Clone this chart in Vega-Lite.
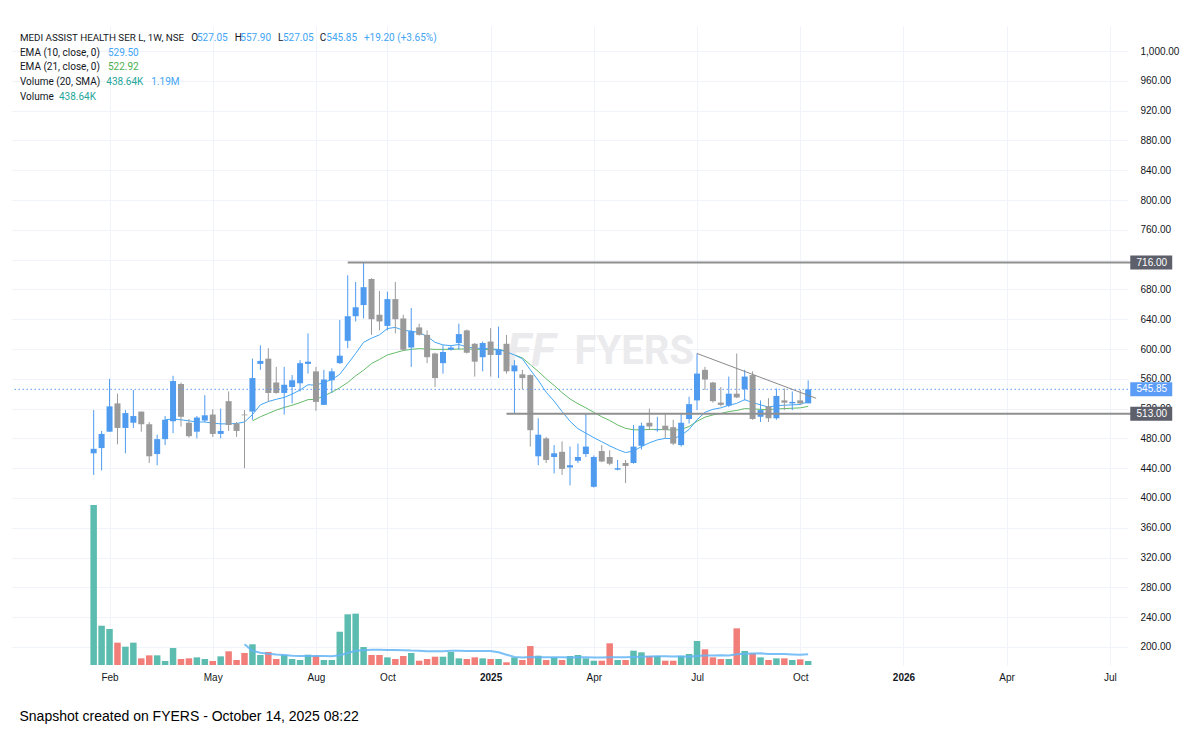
{
"$schema":"https://vega.github.io/schema/vega-lite/v6.json",
"width":1116,"height":639,"autosize":"none",
"padding":{"left":12,"top":26,"right":72,"bottom":67},
"background":"#ffffff",
"config":{"view":{"stroke":null},"axis":{"labelFont":"Liberation Sans"},"scale":{"continuousPadding":0}},
"title":{"text":"Snapshot created on FYERS - October 14, 2025 08:22","orient":"bottom","anchor":"start","offset":28,"dx":8,"font":"Liberation Sans","fontSize":14,"fontWeight":"normal","color":"#000000"},
"datasets":{"w":[
{"d":"2024-01-22","o":460,"h":518,"l":431,"c":466,"v":17.54},
{"d":"2024-01-29","o":467,"h":490,"l":437,"c":486,"v":4.31},
{"d":"2024-02-05","o":489,"h":560,"l":489,"c":523,"v":3.95},
{"d":"2024-02-12","o":527,"h":540,"l":472,"c":494,"v":2.45},
{"d":"2024-02-19","o":494,"h":518,"l":460,"c":514,"v":2.01},
{"d":"2024-02-26","o":501,"h":545,"l":494,"c":510,"v":2.45},
{"d":"2024-03-04","o":516,"h":516,"l":489,"c":499,"v":0.73},
{"d":"2024-03-11","o":499,"h":502,"l":447,"c":456,"v":1.06},
{"d":"2024-03-18","o":459,"h":485,"l":444,"c":479,"v":1.06},
{"d":"2024-03-25","o":479,"h":510,"l":471,"c":505,"v":0.44,"e10":505},
{"d":"2024-04-01","o":503,"h":564,"l":487,"c":557,"v":1.86,"e10":506},
{"d":"2024-04-08","o":553,"h":555,"l":496,"c":509,"v":0.66,"e10":505},
{"d":"2024-04-15","o":501,"h":506,"l":481,"c":483,"v":0.73,"e10":503.5},
{"d":"2024-04-22","o":489,"h":510,"l":480,"c":508,"v":0.84,"e10":502},
{"d":"2024-04-29","o":504,"h":538,"l":502,"c":511,"v":0.66,"e10":502},
{"d":"2024-05-06","o":512,"h":519,"l":482,"c":486,"v":0.44,"e10":500.5},
{"d":"2024-05-13","o":486,"h":520,"l":480,"c":490,"v":0.95,"e10":499.5},
{"d":"2024-05-20","o":530,"h":543,"l":490,"c":498,"v":1.50,"e10":499.5},
{"d":"2024-05-27","o":500,"h":502,"l":482,"c":490,"v":0.55,"e10":500},
{"d":"2024-06-03","o":512,"h":518,"l":440,"c":511,"v":1.32,"e10":502,"vs":2.27},
{"d":"2024-06-10","o":516,"h":587,"l":505,"c":561,"v":2.27,"e10":512,"e21":503.5,"vs":1.55},
{"d":"2024-06-17","o":580,"h":605,"l":572,"c":584,"v":1.10,"e10":525,"e21":509,"vs":1.35},
{"d":"2024-06-24","o":587,"h":601,"l":529,"c":541,"v":1.43,"e10":529.5,"e21":513.5,"vs":1.23},
{"d":"2024-07-01","o":555,"h":576,"l":540,"c":541,"v":0.66,"e10":532.5,"e21":518,"vs":1.14},
{"d":"2024-07-08","o":541,"h":576,"l":512,"c":552,"v":1.10,"e10":535,"e21":521.5,"vs":1.09},
{"d":"2024-07-15","o":549,"h":565,"l":527,"c":558,"v":0.66,"e10":539.5,"e21":524.5,"vs":1.02},
{"d":"2024-07-22","o":554,"h":585,"l":543,"c":581,"v":0.55,"e10":545,"e21":528,"vs":1.0},
{"d":"2024-07-29","o":580,"h":621,"l":567,"c":583,"v":1.13,"e10":552,"e21":532,"vs":1.0},
{"d":"2024-08-05","o":570,"h":576,"l":517,"c":529,"v":1.02,"e10":551.5,"e21":532.5,"vs":1.0},
{"d":"2024-08-12","o":525,"h":572,"l":525,"c":559,"v":0.55,"e10":555,"e21":537,"vs":1.0},
{"d":"2024-08-19","o":558,"h":574,"l":541,"c":570,"v":0.55,"e10":559,"e21":542,"vs":0.95},
{"d":"2024-08-26","o":581,"h":639,"l":580,"c":591,"v":3.65,"e10":566,"e21":548,"vs":1.08},
{"d":"2024-09-02","o":611,"h":699,"l":601,"c":644,"v":5.56,"e10":580,"e21":555,"vs":1.32},
{"d":"2024-09-09","o":644,"h":690,"l":637,"c":656,"v":5.63,"e10":594,"e21":564,"vs":1.56},
{"d":"2024-09-16","o":659,"h":716,"l":641,"c":683,"v":1.97,"e10":609,"e21":571.5,"vs":1.63},
{"d":"2024-09-23","o":694,"h":695,"l":619,"c":640,"v":1.10,"e10":614.5,"e21":580.5,"vs":1.66},
{"d":"2024-09-30","o":646,"h":678,"l":625,"c":637,"v":1.10,"e10":619,"e21":586,"vs":1.67},
{"d":"2024-10-07","o":631,"h":677,"l":625,"c":667,"v":0.84,"e10":627.5,"e21":592,"vs":1.64},
{"d":"2024-10-14","o":667,"h":690,"l":621,"c":640,"v":0.66,"e10":629,"e21":595,"vs":1.64},
{"d":"2024-10-21","o":641,"h":646,"l":598,"c":599,"v":0.99,"e10":625,"e21":598,"vs":1.63},
{"d":"2024-10-28","o":602,"h":655,"l":576,"c":624,"v":1.32,"e10":624,"e21":599.5,"vs":1.58},
{"d":"2024-11-04","o":629,"h":634,"l":618,"c":619,"v":0.47,"e10":622,"e21":600.5,"vs":1.55},
{"d":"2024-11-11","o":619,"h":625,"l":581,"c":589,"v":0.66,"e10":617,"e21":600,"vs":1.51},
{"d":"2024-11-18","o":594,"h":595,"l":549,"c":561,"v":0.91,"e10":609,"e21":599.5,"vs":1.52},
{"d":"2024-11-25","o":581,"h":605,"l":567,"c":596,"v":0.91,"e10":605.5,"e21":599.5,"vs":1.51},
{"d":"2024-12-02","o":599,"h":604,"l":598,"c":602,"v":1.43,"e10":604.5,"e21":599.5,"vs":1.55},
{"d":"2024-12-09","o":608,"h":634,"l":599,"c":620,"v":0.73,"e10":606,"e21":600,"vs":1.56},
{"d":"2024-12-16","o":625,"h":626,"l":594,"c":595,"v":0.66,"e10":603,"e21":600,"vs":1.54},
{"d":"2024-12-23","o":607,"h":608,"l":563,"c":583,"v":0.84,"e10":601,"e21":599.5,"vs":1.53},
{"d":"2024-12-30","o":589,"h":610,"l":570,"c":608,"v":0.73,"e10":601,"e21":599.5,"vs":1.54},
{"d":"2025-01-06","o":610,"h":628,"l":563,"c":592,"v":0.66,"e10":600,"e21":599,"vs":1.54},
{"d":"2025-01-13","o":592,"h":630,"l":561,"c":599,"v":0.66,"e10":599.5,"e21":599,"vs":1.39},
{"d":"2025-01-20","o":607,"h":619,"l":567,"c":570,"v":0.30,"e10":596,"e21":597.5,"vs":1.13},
{"d":"2025-01-27","o":570,"h":585,"l":514,"c":578,"v":0.84,"e10":592,"e21":592,"vs":0.89},
{"d":"2025-02-03","o":566,"h":572,"l":546,"c":561,"v":0.55,"e10":587,"e21":588,"vs":0.82},
{"d":"2025-02-10","o":565,"h":566,"l":469,"c":491,"v":2.08,"e10":572,"e21":579,"vs":0.87},
{"d":"2025-02-17","o":456,"h":507,"l":444,"c":485,"v":1.02,"e10":558,"e21":570,"vs":0.86},
{"d":"2025-02-24","o":480,"h":482,"l":447,"c":451,"v":0.55,"e10":542,"e21":560,"vs":0.85},
{"d":"2025-03-03","o":455,"h":471,"l":433,"c":460,"v":0.84,"e10":530,"e21":551,"vs":0.86},
{"d":"2025-03-10","o":462,"h":476,"l":431,"c":439,"v":0.55,"e10":516,"e21":541.5,"vs":0.84},
{"d":"2025-03-17","o":441,"h":469,"l":417,"c":444,"v":0.99,"e10":503,"e21":533,"vs":0.82},
{"d":"2025-03-24","o":450,"h":473,"l":447,"c":455,"v":1.10,"e10":493,"e21":526.5,"vs":0.85},
{"d":"2025-03-31","o":459,"h":513,"l":455,"c":469,"v":0.73,"e10":487,"e21":521,"vs":0.85},
{"d":"2025-04-07","o":415,"h":457,"l":414,"c":455,"v":0.47,"e10":481,"e21":515,"vs":0.83},
{"d":"2025-04-14","o":463,"h":471,"l":448,"c":449,"v":0.47,"e10":475.5,"e21":509,"vs":0.81},
{"d":"2025-04-21","o":455,"h":464,"l":444,"c":446,"v":2.38,"e10":470,"e21":504,"vs":0.86},
{"d":"2025-04-28","o":438,"h":451,"l":437,"c":440,"v":0.55,"e10":465,"e21":498,"vs":0.85},
{"d":"2025-05-05","o":447,"h":451,"l":420,"c":443,"v":0.55,"e10":461,"e21":493.5,"vs":0.84},
{"d":"2025-05-12","o":447,"h":498,"l":446,"c":469,"v":1.57,"e10":463,"e21":491.5,"vs":0.88},
{"d":"2025-05-19","o":470,"h":501,"l":465,"c":497,"v":1.39,"e10":469,"e21":491.5,"vs":0.91},
{"d":"2025-05-26","o":501,"h":520,"l":491,"c":496,"v":0.99,"e10":474,"e21":492,"vs":0.93},
{"d":"2025-06-02","o":491,"h":509,"l":489,"c":492,"v":0.99,"e10":478,"e21":492,"vs":0.95},
{"d":"2025-06-09","o":497,"h":514,"l":480,"c":491,"v":0.47,"e10":480,"e21":492,"vs":0.95},
{"d":"2025-06-16","o":495,"h":505,"l":471,"c":473,"v":0.47,"e10":479.5,"e21":491,"vs":0.94},
{"d":"2025-06-23","o":471,"h":514,"l":469,"c":501,"v":0.99,"e10":484,"e21":492,"vs":0.96},
{"d":"2025-06-30","o":506,"h":536,"l":500,"c":526,"v":1.21,"e10":492,"e21":496,"vs":0.91},
{"d":"2025-07-07","o":531,"h":594,"l":518,"c":567,"v":2.63,"e10":505,"e21":503,"vs":0.99},
{"d":"2025-07-14","o":572,"h":576,"l":545,"c":559,"v":1.72,"e10":515,"e21":508.5,"vs":1.05},
{"d":"2025-07-21","o":555,"h":556,"l":528,"c":530,"v":0.84,"e10":519,"e21":511.5,"vs":1.05},
{"d":"2025-07-28","o":528,"h":549,"l":523,"c":525,"v":0.66,"e10":521,"e21":513.5,"vs":1.06},
{"d":"2025-08-04","o":524,"h":563,"l":522,"c":540,"v":0.66,"e10":524.5,"e21":516,"vs":1.04},
{"d":"2025-08-11","o":540,"h":594,"l":534,"c":535,"v":4.02,"e10":527,"e21":517.5,"vs":1.19},
{"d":"2025-08-18","o":546,"h":572,"l":531,"c":563,"v":1.54,"e10":532,"e21":520,"vs":1.23},
{"d":"2025-08-25","o":565,"h":570,"l":505,"c":506,"v":1.28,"e10":528,"e21":519.5,"vs":1.27},
{"d":"2025-09-01","o":509,"h":531,"l":502,"c":518,"v":0.84,"e10":525,"e21":519,"vs":1.29},
{"d":"2025-09-08","o":523,"h":534,"l":502,"c":507,"v":0.55,"e10":522,"e21":518.5,"vs":1.20},
{"d":"2025-09-15","o":507,"h":547,"l":505,"c":537,"v":0.73,"e10":524,"e21":519.5,"vs":1.20},
{"d":"2025-09-22","o":531,"h":547,"l":518,"c":528,"v":0.73,"e10":524.5,"e21":520,"vs":1.21},
{"d":"2025-09-29","o":527,"h":543,"l":518,"c":529,"v":0.55,"e10":525,"e21":520.5,"vs":1.16},
{"d":"2025-10-06","o":531,"h":545,"l":525,"c":527,"v":0.62,"e10":525.5,"e21":521,"vs":1.12},
{"d":"2025-10-13","o":527.05,"h":557.9,"l":527.05,"c":545.85,"v":0.4386,"e10":529.5,"e21":522.92,"vs":1.19}
]},
"data":{"name":"w"},
"layer":[
{"layer":[
 {"mark":{"type":"bar","size":6.5},
  "encoding":{
   "x":{"field":"d","type":"temporal","title":null,"scale":{"type":"utc","padding":0,"domain":[{"year":2023,"month":11,"date":11,"utc":true},{"year":2026,"month":7,"date":22,"utc":true}]},
     "axis":{"values":[{"year":2024,"month":2,"date":5,"utc":true},{"year":2024,"month":5,"date":6,"utc":true},{"year":2024,"month":8,"date":5,"utc":true},{"year":2024,"month":10,"date":7,"utc":true},{"year":2025,"month":1,"date":6,"utc":true},{"year":2025,"month":4,"date":7,"utc":true},{"year":2025,"month":7,"date":7,"utc":true},{"year":2025,"month":10,"date":6,"utc":true},{"year":2026,"month":1,"date":5,"utc":true},{"year":2026,"month":4,"date":6,"utc":true},{"year":2026,"month":7,"date":6,"utc":true}],
      "tickCount":30,
      "labelExpr":"utcmonth(datum.value)==0 ? utcFormat(datum.value,'%Y') : utcFormat(datum.value,'%b')",
      "labelFontWeight":{"condition":{"test":"utcmonth(datum.value)==0","value":"bold"},"value":"normal"},
      "grid":true,"gridColor":"#f0f3fa","gridWidth":1,"domain":false,"ticks":false,"labelPadding":7,"labelFontSize":10,"labelColor":"#131722","labelFlush":false,"labelOverlap":false}},
   "y":{"field":"v","type":"quantitative","title":null,"scale":{"domain":[0,70.07],"nice":false,"zero":true,"padding":0},"axis":null},
   "color":{"condition":{"test":"datum.c >= datum.o","value":"#5cbcb0"},"value":"#f27e7a"}}},
 {"mark":{"type":"line","color":"#64b5f6","strokeWidth":2,"opacity":0.85},
  "encoding":{
   "x":{"field":"d","type":"temporal","title":null,"scale":{"type":"utc","padding":0}},
   "y":{"field":"vs","type":"quantitative","title":null,"scale":{"domain":[0,70.07],"nice":false,"zero":true,"padding":0},"axis":null}}}
]},
{"layer":[
 {"mark":{"type":"line","color":"#66bb6a","strokeWidth":1},
  "encoding":{"x":{"field":"d","type":"temporal","title":null,"scale":{"type":"utc","padding":0}},
   "y":{"field":"e21","type":"quantitative","title":null,"scale":{"domain":[175.8,1033.6],"nice":false,"zero":false,"padding":0},
    "axis":{"orient":"right","values":[200,240,280,320,360,400,440,480,520,560,600,640,680,720,760,800,840,880,920,960,1000],"tickCount":40,"labelExpr":"datum.value == 720 ? '' : format(datum.value, ',.2f')","grid":true,"gridColor":"#f0f3fa","domain":false,"ticks":false,"labelPadding":12,"labelFontSize":10,"labelColor":"#131722","labelAlign":"left","labelOverlap":false,"labelFlush":false}}}},
 {"data":{"values":[{}]},"mark":{"type":"text","align":"left","baseline":"middle","font":"Roboto","fontSize":40,"fontWeight":"bold","color":"#ebebee"},
  "encoding":{"x":{"datum":{"year":2025,"month":3,"date":21,"utc":true},"type":"temporal"},"y":{"datum":596,"type":"quantitative"},"text":{"value":"FYERS"}}},
 {"data":{"values":[{}]},"mark":{"type":"text","align":"left","baseline":"middle","font":"Roboto","fontSize":46,"fontWeight":"bold","fontStyle":"italic","color":"#ebebee"},
  "encoding":{"x":{"datum":{"year":2025,"month":1,"date":20,"utc":true},"type":"temporal"},"y":{"datum":596,"type":"quantitative"},"text":{"value":"FF"}}},
 {"mark":{"type":"line","color":"#42a5f5","strokeWidth":1},
  "encoding":{"x":{"field":"d","type":"temporal","title":null,"scale":{"type":"utc","padding":0}},
   "y":{"field":"e10","type":"quantitative","title":null}}},
 {"mark":{"type":"rule","strokeWidth":1},
  "encoding":{"x":{"field":"d","type":"temporal","title":null,"scale":{"type":"utc","padding":0}},
   "y":{"field":"l","type":"quantitative","title":null},"y2":{"field":"h"},
   "color":{"condition":{"test":"datum.c >= datum.o","value":"#4f9bf0"},"value":"#9a9a9a"}}},
 {"mark":{"type":"bar","size":6},
  "encoding":{"x":{"field":"d","type":"temporal","title":null,"scale":{"type":"utc","padding":0}},
   "y":{"field":"o","type":"quantitative","title":null},"y2":{"field":"c"},
   "color":{"condition":{"test":"datum.c >= datum.o","value":"#4f9bf0"},"value":"#9a9a9a"}}},
 {"data":{"values":[{}]},"mark":{"type":"rule","color":"#5b9cf6","strokeWidth":1,"strokeDash":[1.5,2.5]},
  "encoding":{"y":{"datum":545.85,"type":"quantitative"}}},
 {"data":{"values":[{}]},"mark":{"type":"rule","color":"#8f8f8f","strokeWidth":2},
  "encoding":{"x":{"datum":{"year":2024,"month":9,"date":2,"utc":true},"type":"temporal"},"x2":{"datum":{"year":2026,"month":7,"date":25,"utc":true}},"y":{"datum":716,"type":"quantitative"}}},
 {"data":{"values":[{}]},"mark":{"type":"rule","color":"#8f8f8f","strokeWidth":2},
  "encoding":{"x":{"datum":{"year":2025,"month":1,"date":20,"utc":true},"type":"temporal"},"x2":{"datum":{"year":2026,"month":7,"date":25,"utc":true}},"y":{"datum":513,"type":"quantitative"}}},
 {"data":{"values":[{}]},"mark":{"type":"rule","color":"#8a8a8a","strokeWidth":1},
  "encoding":{"x":{"datum":{"year":2025,"month":7,"date":7,"utc":true},"type":"temporal"},"x2":{"datum":{"year":2025,"month":10,"date":20,"utc":true}},"y":{"datum":594,"type":"quantitative"},"y2":{"datum":533.8}}},
 {"data":{"values":[{}]},"mark":{"type":"rect","color":"#5d606b"},
  "encoding":{"x":{"datum":{"year":2026,"month":7,"date":24,"utc":true},"type":"temporal"},"x2":{"datum":{"year":2026,"month":8,"date":30,"utc":true}},"y":{"datum":706.6,"type":"quantitative"},"y2":{"datum":725.4}}},
 {"data":{"values":[{}]},"mark":{"type":"rect","color":"#5d606b"},
  "encoding":{"x":{"datum":{"year":2026,"month":7,"date":24,"utc":true},"type":"temporal"},"x2":{"datum":{"year":2026,"month":8,"date":30,"utc":true}},"y":{"datum":503.6,"type":"quantitative"},"y2":{"datum":522.4}}},
 {"data":{"values":[{}]},"mark":{"type":"rect","color":"#5b9cf6"},
  "encoding":{"x":{"datum":{"year":2026,"month":7,"date":24,"utc":true},"type":"temporal"},"x2":{"datum":{"year":2026,"month":8,"date":30,"utc":true}},"y":{"datum":536.45,"type":"quantitative"},"y2":{"datum":555.25}}},
 {"data":{"values":[{"t":"716.00","p":716},{"t":"545.85","p":545.85},{"t":"513.00","p":513}]},"mark":{"type":"text","align":"center","baseline":"middle","font":"Liberation Sans","fontSize":10,"color":"#ffffff"},
  "encoding":{"x":{"datum":{"year":2026,"month":8,"date":12,"utc":true},"type":"temporal"},"y":{"field":"p","type":"quantitative","title":null},"text":{"field":"t"}}},
 {"data":{"values":[{}]},"mark":{"type":"text","align":"left","baseline":"middle","font":"Roboto","fontSize":9.8,"color":"#131722"},
  "encoding":{"x":{"datum":{"year":2023,"month":11,"date":18,"utc":true},"type":"temporal"},"y":{"datum":1017.4,"type":"quantitative"},"text":{"value":"MEDI ASSIST HEALTH SER L, 1W, NSE"}}},
 {"data":{"values":[{}]},"mark":{"type":"text","align":"left","baseline":"middle","font":"Roboto","fontSize":10,"color":"#131722","dx":171.4},
  "encoding":{"x":{"datum":{"year":2023,"month":11,"date":18,"utc":true},"type":"temporal"},"y":{"datum":1017.4,"type":"quantitative"},"text":{"value":"O"}}},
 {"data":{"values":[{}]},"mark":{"type":"text","align":"left","baseline":"middle","font":"Roboto","fontSize":10,"color":"#131722","dx":214.7},
  "encoding":{"x":{"datum":{"year":2023,"month":11,"date":18,"utc":true},"type":"temporal"},"y":{"datum":1017.4,"type":"quantitative"},"text":{"value":"H"}}},
 {"data":{"values":[{}]},"mark":{"type":"text","align":"left","baseline":"middle","font":"Roboto","fontSize":10,"color":"#131722","dx":258},
  "encoding":{"x":{"datum":{"year":2023,"month":11,"date":18,"utc":true},"type":"temporal"},"y":{"datum":1017.4,"type":"quantitative"},"text":{"value":"L"}}},
 {"data":{"values":[{}]},"mark":{"type":"text","align":"left","baseline":"middle","font":"Roboto","fontSize":10,"color":"#131722","dx":299.7},
  "encoding":{"x":{"datum":{"year":2023,"month":11,"date":18,"utc":true},"type":"temporal"},"y":{"datum":1017.4,"type":"quantitative"},"text":{"value":"C"}}},
 {"data":{"values":[{}]},"mark":{"type":"text","align":"left","baseline":"middle","font":"Roboto","fontSize":10,"color":"#42a5f5","dx":177},
  "encoding":{"x":{"datum":{"year":2023,"month":11,"date":18,"utc":true},"type":"temporal"},"y":{"datum":1017.4,"type":"quantitative"},"text":{"value":"527.05"}}},
 {"data":{"values":[{}]},"mark":{"type":"text","align":"left","baseline":"middle","font":"Roboto","fontSize":10,"color":"#42a5f5","dx":220.4},
  "encoding":{"x":{"datum":{"year":2023,"month":11,"date":18,"utc":true},"type":"temporal"},"y":{"datum":1017.4,"type":"quantitative"},"text":{"value":"557.90"}}},
 {"data":{"values":[{}]},"mark":{"type":"text","align":"left","baseline":"middle","font":"Roboto","fontSize":10,"color":"#42a5f5","dx":263},
  "encoding":{"x":{"datum":{"year":2023,"month":11,"date":18,"utc":true},"type":"temporal"},"y":{"datum":1017.4,"type":"quantitative"},"text":{"value":"527.05"}}},
 {"data":{"values":[{}]},"mark":{"type":"text","align":"left","baseline":"middle","font":"Roboto","fontSize":10,"color":"#42a5f5","dx":306.4},
  "encoding":{"x":{"datum":{"year":2023,"month":11,"date":18,"utc":true},"type":"temporal"},"y":{"datum":1017.4,"type":"quantitative"},"text":{"value":"545.85"}}},
 {"data":{"values":[{}]},"mark":{"type":"text","align":"left","baseline":"middle","font":"Roboto","fontSize":10,"color":"#42a5f5","dx":344},
  "encoding":{"x":{"datum":{"year":2023,"month":11,"date":18,"utc":true},"type":"temporal"},"y":{"datum":1017.4,"type":"quantitative"},"text":{"value":"+19.20 (+3.65%)"}}},
 {"data":{"values":[{}]},"mark":{"type":"text","align":"left","baseline":"middle","font":"Roboto","fontSize":10,"color":"#131722"},
  "encoding":{"x":{"datum":{"year":2023,"month":11,"date":18,"utc":true},"type":"temporal"},"y":{"datum":997.3,"type":"quantitative"},"text":{"value":"EMA (10, close, 0)"}}},
 {"data":{"values":[{}]},"mark":{"type":"text","align":"left","baseline":"middle","font":"Roboto","fontSize":10,"color":"#42a5f5","dx":88},
  "encoding":{"x":{"datum":{"year":2023,"month":11,"date":18,"utc":true},"type":"temporal"},"y":{"datum":997.3,"type":"quantitative"},"text":{"value":"529.50"}}},
 {"data":{"values":[{}]},"mark":{"type":"text","align":"left","baseline":"middle","font":"Roboto","fontSize":10,"color":"#131722"},
  "encoding":{"x":{"datum":{"year":2023,"month":11,"date":18,"utc":true},"type":"temporal"},"y":{"datum":977.9,"type":"quantitative"},"text":{"value":"EMA (21, close, 0)"}}},
 {"data":{"values":[{}]},"mark":{"type":"text","align":"left","baseline":"middle","font":"Roboto","fontSize":10,"color":"#4caf50","dx":88},
  "encoding":{"x":{"datum":{"year":2023,"month":11,"date":18,"utc":true},"type":"temporal"},"y":{"datum":977.9,"type":"quantitative"},"text":{"value":"522.92"}}},
 {"data":{"values":[{}]},"mark":{"type":"text","align":"left","baseline":"middle","font":"Roboto","fontSize":10,"color":"#131722"},
  "encoding":{"x":{"datum":{"year":2023,"month":11,"date":18,"utc":true},"type":"temporal"},"y":{"datum":958.4,"type":"quantitative"},"text":{"value":"Volume (20, SMA)"}}},
 {"data":{"values":[{}]},"mark":{"type":"text","align":"left","baseline":"middle","font":"Roboto","fontSize":10,"color":"#26a69a","dx":86.4},
  "encoding":{"x":{"datum":{"year":2023,"month":11,"date":18,"utc":true},"type":"temporal"},"y":{"datum":958.4,"type":"quantitative"},"text":{"value":"438.64K"}}},
 {"data":{"values":[{}]},"mark":{"type":"text","align":"left","baseline":"middle","font":"Roboto","fontSize":10,"color":"#42a5f5","dx":131.4},
  "encoding":{"x":{"datum":{"year":2023,"month":11,"date":18,"utc":true},"type":"temporal"},"y":{"datum":958.4,"type":"quantitative"},"text":{"value":"1.19M"}}},
 {"data":{"values":[{}]},"mark":{"type":"text","align":"left","baseline":"middle","font":"Roboto","fontSize":10,"color":"#131722"},
  "encoding":{"x":{"datum":{"year":2023,"month":11,"date":18,"utc":true},"type":"temporal"},"y":{"datum":938.3,"type":"quantitative"},"text":{"value":"Volume"}}},
 {"data":{"values":[{}]},"mark":{"type":"text","align":"left","baseline":"middle","font":"Roboto","fontSize":10,"color":"#26a69a","dx":39},
  "encoding":{"x":{"datum":{"year":2023,"month":11,"date":18,"utc":true},"type":"temporal"},"y":{"datum":938.3,"type":"quantitative"},"text":{"value":"438.64K"}}}
]}
],
"resolve":{"scale":{"y":"independent"}}
}
